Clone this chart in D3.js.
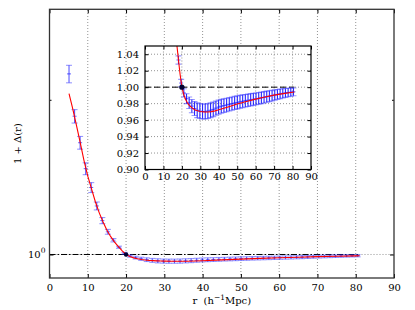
<!DOCTYPE html>
<html><head><meta charset="utf-8">
<script src="https://cdn.jsdelivr.net/npm/d3@7"></script>
<style>
body{margin:0;background:#fff;}
text{font-family:"DejaVu Serif",serif;fill:#000;}
</style></head>
<body><svg id="c" width="415" height="310"></svg>
<script>
// ---- data ----
const rData = [5.1, 6.55, 8.0, 9.45, 10.9, 12.35, 13.8, 15.25, 16.7, 18.15, 19.6, 21.05, 22.5, 23.95, 25.4, 26.85, 28.3, 29.75, 31.2, 32.65, 34.1, 35.55, 37.0, 38.45, 39.9, 41.35, 42.8, 44.25, 45.7, 47.15, 48.6, 50.05, 51.5, 52.95, 54.4, 55.85, 57.3, 58.75, 60.2, 61.65, 63.1, 64.55, 66.0, 67.45, 68.9, 70.35, 71.8, 73.25, 74.7, 76.15, 77.6, 79.05, 80.5];
const vData = [2.246, 1.858, 1.650, 1.469, 1.350, 1.243, 1.164, 1.107, 1.066, 1.033, 1.005, 0.993, 0.986, 0.981, 0.977, 0.974, 0.972, 0.971, 0.9705, 0.9705, 0.971, 0.972, 0.973, 0.9745, 0.9758, 0.9768, 0.9776, 0.9784, 0.9792, 0.980, 0.9808, 0.9815, 0.9822, 0.9829, 0.9835, 0.9841, 0.9847, 0.9852, 0.9858, 0.9864, 0.987, 0.9877, 0.9884, 0.9891, 0.9898, 0.9905, 0.9912, 0.9919, 0.9925, 0.993, 0.9935, 0.9939, 0.9943];
const eData = [0.088, 0.056, 0.047, 0.039, 0.030, 0.022, 0.016, 0.012, 0.008, 0.005, 0.0045, 0.005, 0.006, 0.007, 0.008, 0.0085, 0.009, 0.009, 0.009, 0.009, 0.009, 0.009, 0.0088, 0.0086, 0.0085, 0.0084, 0.0083, 0.0082, 0.0081, 0.008, 0.008, 0.0079, 0.0078, 0.0077, 0.0076, 0.0075, 0.0074, 0.0073, 0.0072, 0.0071, 0.007, 0.0069, 0.0068, 0.0066, 0.0064, 0.0062, 0.006, 0.0058, 0.0056, 0.0054, 0.0052, 0.005, 0.0047];
const rFit = [5.1, 6, 7, 8, 9, 10, 11, 12, 13, 14, 15, 16, 17, 18, 19, 20, 21, 22, 23, 24, 25, 26, 27, 28, 29, 30, 32, 34, 36, 38, 40, 45, 50, 55, 60, 65, 70, 75, 80, 81];
const vFit = [2.057, 1.93, 1.79, 1.655, 1.525, 1.42, 1.34, 1.265, 1.205, 1.157, 1.115, 1.083, 1.057, 1.036, 1.016, 1.000, 0.991, 0.985, 0.981, 0.978, 0.9758, 0.974, 0.9727, 0.9717, 0.971, 0.9705, 0.970, 0.9699, 0.9703, 0.9712, 0.9725, 0.976, 0.9795, 0.9827, 0.9855, 0.988, 0.9903, 0.9922, 0.9938, 0.9941];
const refPoint = [20, 1.0];
const refLineR = [0, 81];
const xTicks = [0, 10, 20, 30, 40, 50, 60, 70, 80, 90];
const insetYTicks = [0.90, 0.92, 0.94, 0.96, 0.98, 1.00, 1.02, 1.04];

const svg = d3.select("#c");
const FS = 10;

// ---- main plot ----
const x = d3.scaleLinear([0, 90], [49.5, 394]);
const y = d3.scaleLog([0.9, 3], [278, 9.3]);
const main = svg.append("g");
main.append("rect").attr("x", x(0)).attr("y", y(3)).attr("width", x(90) - x(0)).attr("height", y(0.9) - y(3)).attr("fill", "#fff");

const gridStyle = s => s.attr("stroke", "#777").attr("stroke-width", 0.8).attr("stroke-dasharray", "1,2");
main.selectAll(".gx").data(xTicks.slice(1, -1)).join("line")
  .attr("x1", d => x(d)).attr("x2", d => x(d)).attr("y1", y(0.9)).attr("y2", y(3)).call(gridStyle);
main.append("line").attr("x1", x(0)).attr("x2", x(90)).attr("y1", y(1)).attr("y2", y(1)).call(gridStyle);

// axes
const ax = g => g.call(s => s.select(".domain").remove());
main.append("g").attr("transform", `translate(0,${y(0.9)})`)
  .call(d3.axisBottom(x).tickValues(xTicks).tickSize(-4).tickPadding(6).tickFormat(d3.format("d")))
  .call(ax).call(g => g.selectAll("text").attr("font-size", FS).attr("font-family", "DejaVu Serif"));
main.append("g").attr("transform", `translate(0,${y(3)})`)
  .call(d3.axisTop(x).tickValues(xTicks).tickSize(-4).tickFormat(""))
  .call(ax);
main.append("g").attr("transform", `translate(${x(0)},0)`)
  .call(d3.axisLeft(y).tickValues([1]).tickSize(-4).tickFormat(""))
  .call(ax);
main.append("g").attr("transform", `translate(${x(0)},0)`)
  .call(d3.axisLeft(y).tickValues([2]).tickSize(-2).tickFormat(""))
  .call(ax);
main.append("g").attr("transform", `translate(${x(90)},0)`)
  .call(d3.axisRight(y).tickValues([1]).tickSize(-4).tickFormat(""))
  .call(ax);
main.append("g").attr("transform", `translate(${x(90)},0)`)
  .call(d3.axisRight(y).tickValues([2]).tickSize(-2).tickFormat(""))
  .call(ax);
const yl = main.append("text").attr("x", x(0) - 4).attr("y", y(1) + 3.5).attr("text-anchor", "end").attr("font-size", FS);
yl.append("tspan").text("10");
yl.append("tspan").attr("dy", -4.5).attr("font-size", 7.5).text("0");

// reference dash-dot line
main.append("line").attr("x1", x(refLineR[0])).attr("x2", x(refLineR[1])).attr("y1", y(1)).attr("y2", y(1))
  .attr("stroke", "#000").attr("stroke-width", 1).attr("stroke-dasharray", "6,2,1.5,2");

const data = rData.map((r, i) => ({ r, v: vData[i], e: eData[i] }));
const fit = rFit.map((r, i) => ({ r, v: vFit[i] }));

function errorbars(g, xs, ys, capHalf, lineOp) {
  const eb = g.append("g");
  eb.selectAll(".bar").data(data).join("line")
    .attr("x1", d => xs(d.r)).attr("x2", d => xs(d.r))
    .attr("y1", d => ys(d.v - d.e)).attr("y2", d => ys(d.v + d.e))
    .attr("stroke", "#0000ff").attr("stroke-opacity", lineOp).attr("stroke-width", 1.1);
  ["top", "bot"].forEach(k => {
    eb.selectAll(".cap" + k).data(data).join("line")
      .attr("x1", d => xs(d.r) - capHalf).attr("x2", d => xs(d.r) + capHalf)
      .attr("y1", d => ys(k === "top" ? d.v + d.e : d.v - d.e)).attr("y2", d => ys(k === "top" ? d.v + d.e : d.v - d.e))
      .attr("stroke", "#3333ff").attr("stroke-opacity", 0.5).attr("stroke-width", 1.1);
  });
  eb.selectAll(".mk").data(data).join("line")
    .attr("x1", d => xs(d.r) - 2).attr("x2", d => xs(d.r) + 2)
    .attr("y1", d => ys(d.v)).attr("y2", d => ys(d.v))
    .attr("stroke", "#0000ff").attr("stroke-opacity", 0.6).attr("stroke-width", 1);
}
errorbars(main, x, y, 3, 0.65);

const lineMain = d3.line().x(d => x(d.r)).y(d => y(d.v));
main.append("path").datum(fit).attr("d", lineMain).attr("fill", "none").attr("stroke", "#ff0000").attr("stroke-width", 1.1);
main.append("circle").attr("cx", x(refPoint[0])).attr("cy", y(refPoint[1])).attr("r", 2.2).attr("fill", "#000033");

main.append("rect").attr("x", x(0)).attr("y", y(3)).attr("width", x(90) - x(0)).attr("height", y(0.9) - y(3))
  .attr("fill", "none").attr("stroke", "#333").attr("stroke-width", 1.3);

// axis labels
const xl = svg.append("text").attr("x", (x(0) + x(90)) / 2).attr("y", 304).attr("text-anchor", "middle").attr("font-size", FS);
xl.append("tspan").text("r\u00a0\u00a0(h");
xl.append("tspan").attr("dy", -4.5).attr("font-size", 7.5).text("−1");
xl.append("tspan").attr("dy", 4.5).text("Mpc)");
svg.append("text").attr("transform", `translate(21,${(y(0.9) + y(3)) / 2}) rotate(-90)`).attr("text-anchor", "middle").attr("font-size", FS)
  .text("1 + Δ(r)");

// ---- inset ----
const xi = d3.scaleLinear([0, 90], [145, 311]);
const yi = d3.scaleLinear([0.9, 1.05], [169.5, 46]);
const ins = svg.append("g");
ins.append("rect").attr("x", xi(0)).attr("y", yi(1.05)).attr("width", xi(90) - xi(0)).attr("height", yi(0.9) - yi(1.05)).attr("fill", "#fff");
ins.append("clipPath").attr("id", "ic").append("rect").attr("x", xi(0)).attr("y", yi(1.05)).attr("width", xi(90) - xi(0)).attr("height", yi(0.9) - yi(1.05));
ins.selectAll(".gix").data(xTicks.slice(1, -1)).join("line")
  .attr("x1", d => xi(d)).attr("x2", d => xi(d)).attr("y1", yi(0.9)).attr("y2", yi(1.05)).call(gridStyle);
ins.selectAll(".giy").data(insetYTicks.slice(1)).join("line")
  .attr("x1", xi(0)).attr("x2", xi(90)).attr("y1", d => yi(d)).attr("y2", d => yi(d)).call(gridStyle);

ins.append("g").attr("transform", `translate(0,${yi(0.9)})`)
  .call(d3.axisBottom(xi).tickValues(xTicks).tickSize(-3.5).tickPadding(3.5).tickFormat(d3.format("d")))
  .call(ax).call(g => g.selectAll("text").attr("font-size", FS).attr("font-family", "DejaVu Serif"));
ins.append("g").attr("transform", `translate(0,${yi(1.05)})`)
  .call(d3.axisTop(xi).tickValues(xTicks).tickSize(-3.5).tickFormat("")).call(ax);
ins.append("g").attr("transform", `translate(${xi(0)},0)`)
  .call(d3.axisLeft(yi).tickValues(insetYTicks).tickSize(-3.5).tickPadding(6).tickFormat(d3.format(".2f")))
  .call(ax).call(g => g.selectAll("text").attr("font-size", FS).attr("font-family", "DejaVu Serif"));
ins.append("g").attr("transform", `translate(${xi(90)},0)`)
  .call(d3.axisRight(yi).tickValues(insetYTicks).tickSize(-3.5).tickFormat("")).call(ax);

const inClip = ins.append("g").attr("clip-path", "url(#ic)");
inClip.append("line").attr("x1", xi(refLineR[0])).attr("x2", xi(refLineR[1])).attr("y1", yi(1)).attr("y2", yi(1))
  .attr("stroke", "#000").attr("stroke-width", 1).attr("stroke-dasharray", "6,3");
errorbars(inClip, xi, yi, 3, 0.85);
const lineIn = d3.line().x(d => xi(d.r)).y(d => yi(d.v));
inClip.append("path").datum(fit).attr("d", lineIn).attr("fill", "none").attr("stroke", "#ff0000").attr("stroke-width", 1.1);
inClip.append("circle").attr("cx", xi(refPoint[0])).attr("cy", yi(refPoint[1])).attr("r", 2.6).attr("fill", "#000033");
ins.append("rect").attr("x", xi(0)).attr("y", yi(1.05)).attr("width", xi(90) - xi(0)).attr("height", yi(0.9) - yi(1.05))
  .attr("fill", "none").attr("stroke", "#000").attr("stroke-width", 1.2);
</script></body></html>
